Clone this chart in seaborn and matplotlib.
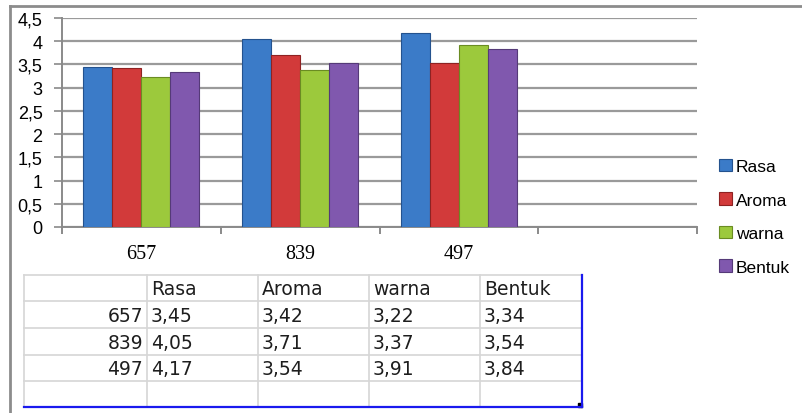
import numpy as np
import pandas as pd
import matplotlib
matplotlib.use("Agg")
import matplotlib.pyplot as plt
from matplotlib.patches import Patch, Rectangle
from matplotlib.lines import Line2D
import seaborn as sns

# ---- data ----
samples = ["657", "839", "497"]
attributes = ["Rasa", "Aroma", "warna", "Bentuk"]
rasa = [3.45, 4.05, 4.17]
aroma = [3.42, 3.71, 3.54]
warna = [3.22, 3.37, 3.91]
bentuk = [3.34, 3.54, 3.84]
yticks = [0, 0.5, 1, 1.5, 2, 2.5, 3, 3.5, 4, 4.5]
ytick_labels = ["0", "0,5", "1", "1,5", "2", "2,5", "3", "3,5", "4", "4,5"]
table_labels = [["3,45", "3,42", "3,22", "3,34"],
                ["4,05", "3,71", "3,37", "3,54"],
                ["4,17", "3,54", "3,91", "3,84"]]

colors = ["#3b7bc8", "#d23a3a", "#9cc93c", "#8058ae"]
edges = ["#24528e", "#8e2222", "#6a8c22", "#553a78"]

series = {"Rasa": rasa, "Aroma": aroma, "warna": warna, "Bentuk": bentuk}
rows = []
for a in attributes:
    for s, v in zip(samples, series[a]):
        rows.append({"sampel": s, "atribut": a, "nilai": v})
df = pd.DataFrame(rows)

W, H = 802, 414
fig = plt.figure(figsize=(W / 100, H / 100), dpi=100)
fig.patch.set_facecolor("white")

# full-figure pixel overlay for frame and table
ov = fig.add_axes([0, 0, 1, 1])
ov.set_xlim(0, W)
ov.set_ylim(H, 0)
ov.axis("off")

ax = fig.add_axes([62 / W, (H - 228) / H, (697 - 62) / W, (228 - 19) / H])
sns.barplot(data=df, x="sampel", y="nilai", hue="atribut", order=samples,
            hue_order=attributes, palette=colors, width=0.73, ax=ax,
            legend=False, saturation=1, errorbar=None, zorder=3)
for cont, ec in zip(ax.containers, edges):
    for bar in cont:
        bar.set_edgecolor(ec)
        bar.set_linewidth(0.8)

ax.set_xlim(-0.5, 3.5)
ax.set_ylim(0, 4.5)
ax.set_yticks(yticks)
ax.set_yticklabels(ytick_labels, fontsize=13, family="Liberation Sans")
ax.yaxis.grid(True, color="#9a9a9a", linewidth=1.6, zorder=0)
ax.set_axisbelow(True)
ax.set_xticks([0, 1, 2])
ax.set_xticklabels(samples, fontsize=14.5, family="Liberation Serif")
ax.tick_params(axis="x", which="major", length=0, pad=12)
ax.set_xticks([-0.5, 0.5, 1.5, 2.5, 3.5], minor=True)
ax.tick_params(axis="x", which="minor", length=5, width=1.4, color="#8a8a8a")
ax.tick_params(axis="y", length=6, width=1.2, color="#8a8a8a", pad=8)
ax.set_xlabel("")
ax.set_ylabel("")
for side in ["top", "right"]:
    ax.spines[side].set_visible(False)
for side in ["left", "bottom"]:
    ax.spines[side].set_color("#8a8a8a")
    ax.spines[side].set_linewidth(1.4)

# legend
handles = [Patch(facecolor=c, edgecolor=e, linewidth=0.8) for c, e in zip(colors, edges)]
fig.legend(handles, attributes, loc="upper left",
           bbox_to_anchor=(719 / W, 1 - 160 / H), frameon=False,
           prop={"family": "Liberation Sans", "size": 12.5},
           handlelength=0.72, handleheight=0.72, handletextpad=0.25,
           labelspacing=1.05, borderaxespad=0, borderpad=0)

# outer frame
ov.add_line(Line2D([10, 10], [7, H], color="#8c8c8c", linewidth=2))
ov.add_line(Line2D([10, W], [7, 7], color="#8c8c8c", linewidth=2))

# table
col_x = [24, 147, 258, 369, 480, 582]
row_y = [276, 302, 329, 356, 382, 408]
grid_c = "#d6d6d6"
for x in col_x[:-1]:
    ov.add_line(Line2D([x, x], [row_y[0], row_y[-1]], color=grid_c, linewidth=1.2))
for y in row_y[:-1]:
    ov.add_line(Line2D([col_x[0], col_x[-1]], [y, y], color=grid_c, linewidth=1.2))
ov.add_line(Line2D([col_x[-1], col_x[-1]], [row_y[0], row_y[-1]], color="#1a1aee", linewidth=1.6))
ov.add_line(Line2D([col_x[0], col_x[-1]], [row_y[-1], row_y[-1]], color="#1a1aee", linewidth=1.6))
ov.add_patch(Rectangle((col_x[-1] - 4, row_y[-1] - 4), 4, 4, color="black"))

tfont = {"family": "DejaVu Sans", "size": 13.5, "color": "#1e1e1e"}
for j, a in enumerate(attributes):
    ov.text(col_x[j + 1] + 4, (row_y[0] + row_y[1]) / 2 + 1, a, va="center", ha="left", **tfont)
for i, s in enumerate(samples):
    yc = (row_y[i + 1] + row_y[i + 2]) / 2 + 1
    ov.text(col_x[1] - 4, yc, s, va="center", ha="right", **tfont)
    for j in range(len(attributes)):
        ov.text(col_x[j + 1] + 4, yc, table_labels[i][j], va="center", ha="left", **tfont)

fig.savefig("out.png", dpi=100)
